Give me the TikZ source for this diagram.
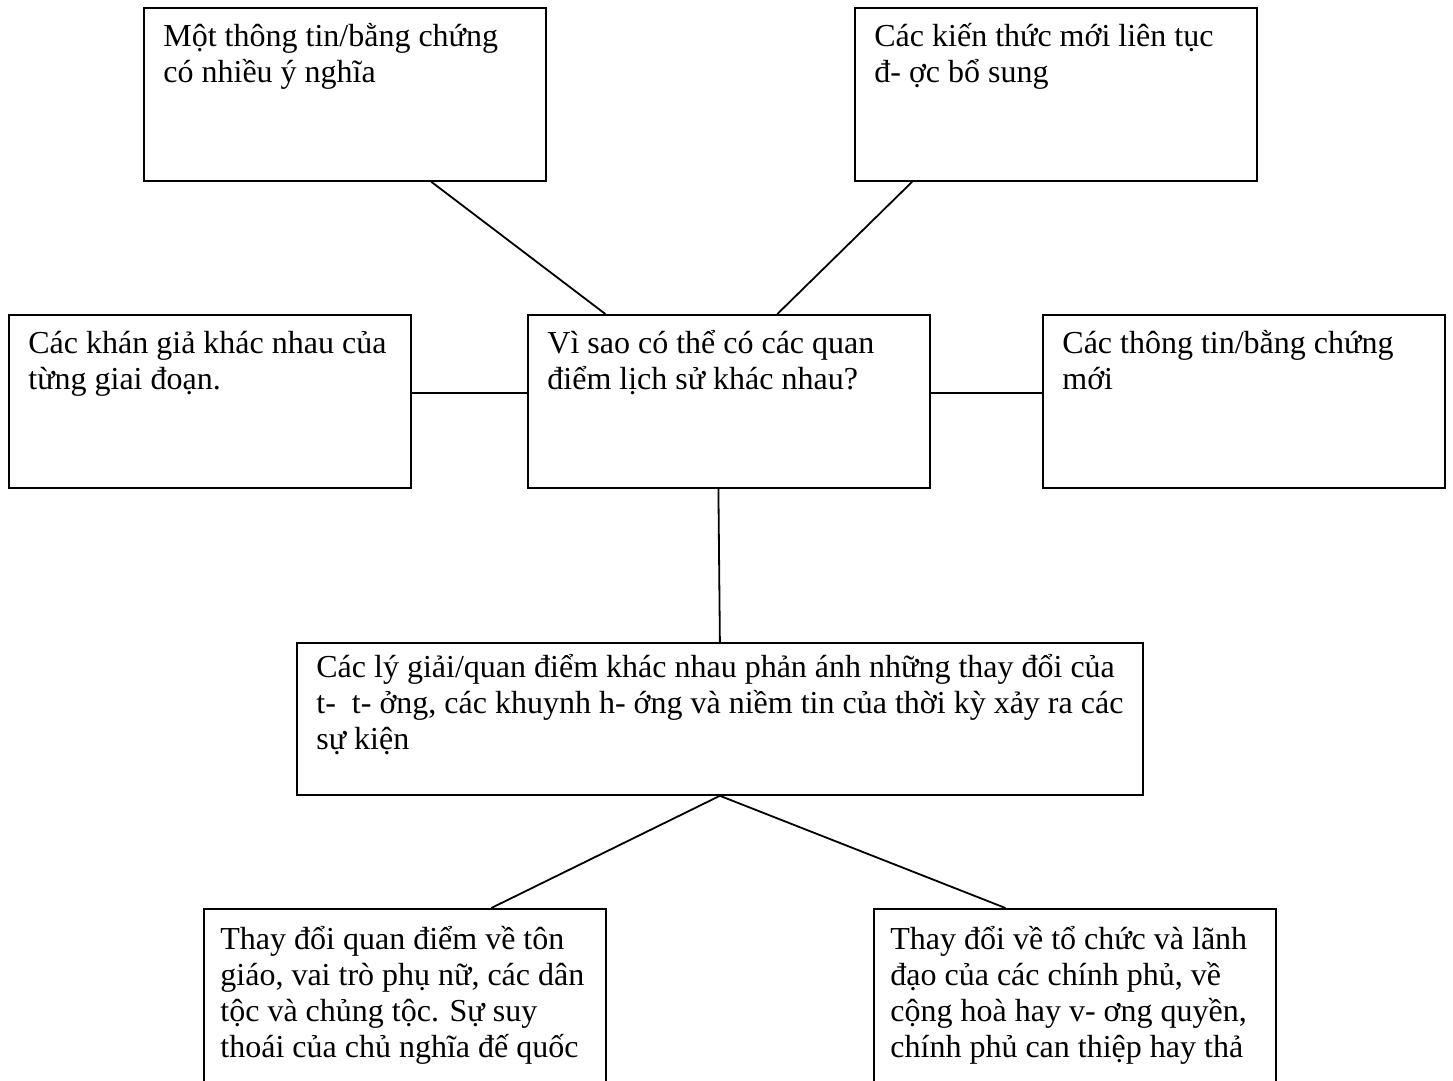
\documentclass[tikz,border=0pt]{standalone}
\usepackage{fontspec}
\setmainfont{Liberation Serif}
\usetikzlibrary{calc,positioning}
\tikzset{
  bx/.style={draw=black,line width=.9pt,fill=white,anchor=north west,inner sep=0pt,
    minimum width=201pt,minimum height=86.5pt},
  bxm/.style={bx,minimum width=423pt,minimum height=76pt},
  bxb/.style={bx,minimum height=110pt},
  tx/.style={anchor=north west,inner sep=0pt,align=left,font=\fontsize{16}{18}\selectfont},
  lnk/.style={draw=black,line width=.9pt},
}

\begin{document}
\begin{tikzpicture}[x=0.5pt,y=-0.5pt]
\clip (0,0) rectangle (1453,1081);
% ---- boxes
\node[bx] (a) at (143,7) {};
\node[bx] (b) at (854,7) {};
\node[bx] (l) at (8,314) {};
\node[bx] (c) at (527,314) {};
\node[bx] (r) at (1042,314) {};
\node[bxm] (m) at (296,642) {};
\node[bxb] (bl) at (203,908) {};
\node[bxb] (br) at (873,908) {};
% ---- texts
\node[tx] (ta) at ($(a.north west)+(20,14)$) {\strut Một thông tin/bằng chứng\\có nhiều ý nghĩa};
\node[tx] (tb) at ($(b.north west)+(20,14)$) {\strut Các kiến thức mới liên tục\\đ- ợc bổ sung};
\node[tx] (tl) at ($(l.north west)+(20,14)$) {\strut Các khán giả khác nhau của\\từng giai đoạn.};
\node[tx] (tc) at ($(c.north west)+(20,14)$) {\strut Vì sao có thể có các quan\\điểm lịch sử khác nhau?};
\node[tx] (tr) at ($(r.north west)+(20,14)$) {\strut Các thông tin/bằng chứng\\mới};
\node[tx] (tm) at ($(m.north west)+(20,10)$)
  {\strut Các lý giải/quan điểm khác nhau phản ánh những thay đổi của\\
   t-\ \ t- ởng, các khuynh h- ớng và niềm tin của thời kỳ xảy ra các\\
   sự kiện};
\node[tx] (tbl) at ($(bl.north west)+(17,16)$)
  {\strut Thay đổi quan điểm về tôn\\giáo, vai trò phụ nữ, các dân\\
   tộc và chủng tộc. Sự suy\\thoái của chủ nghĩa đế quốc};
\node[tx] (tbr) at ($(br.north west)+(17,16)$)
  {\strut Thay đổi về tổ chức và lãnh\\đạo của các chính phủ, về\\
   cộng hoà hay v- ơng quyền,\\chính phủ can thiệp hay thả};
% ---- links
\draw[lnk] ($(a.south west)!.714!(a.south east)$) -- ($(c.north west)!.194!(c.north east)$);
\draw[lnk] ($(b.south west)!.144!(b.south east)$) -- ($(c.north west)!.62!(c.north east)$);
\draw[lnk] ($(l.north east)!.45!(l.south east)$) -- ($(c.north west)!.45!(c.south west)$);
\draw[lnk] ($(c.north east)!.45!(c.south east)$) -- ($(r.north west)!.45!(r.south west)$);
\draw[lnk] ($(c.south west)!.474!(c.south east)$) -- (m.north);
\draw[lnk] (m.south) -- ($(bl.north west)!.714!(bl.north east)$);
\draw[lnk] (m.south) -- ($(br.north west)!.328!(br.north east)$);
\end{tikzpicture}
\end{document}
